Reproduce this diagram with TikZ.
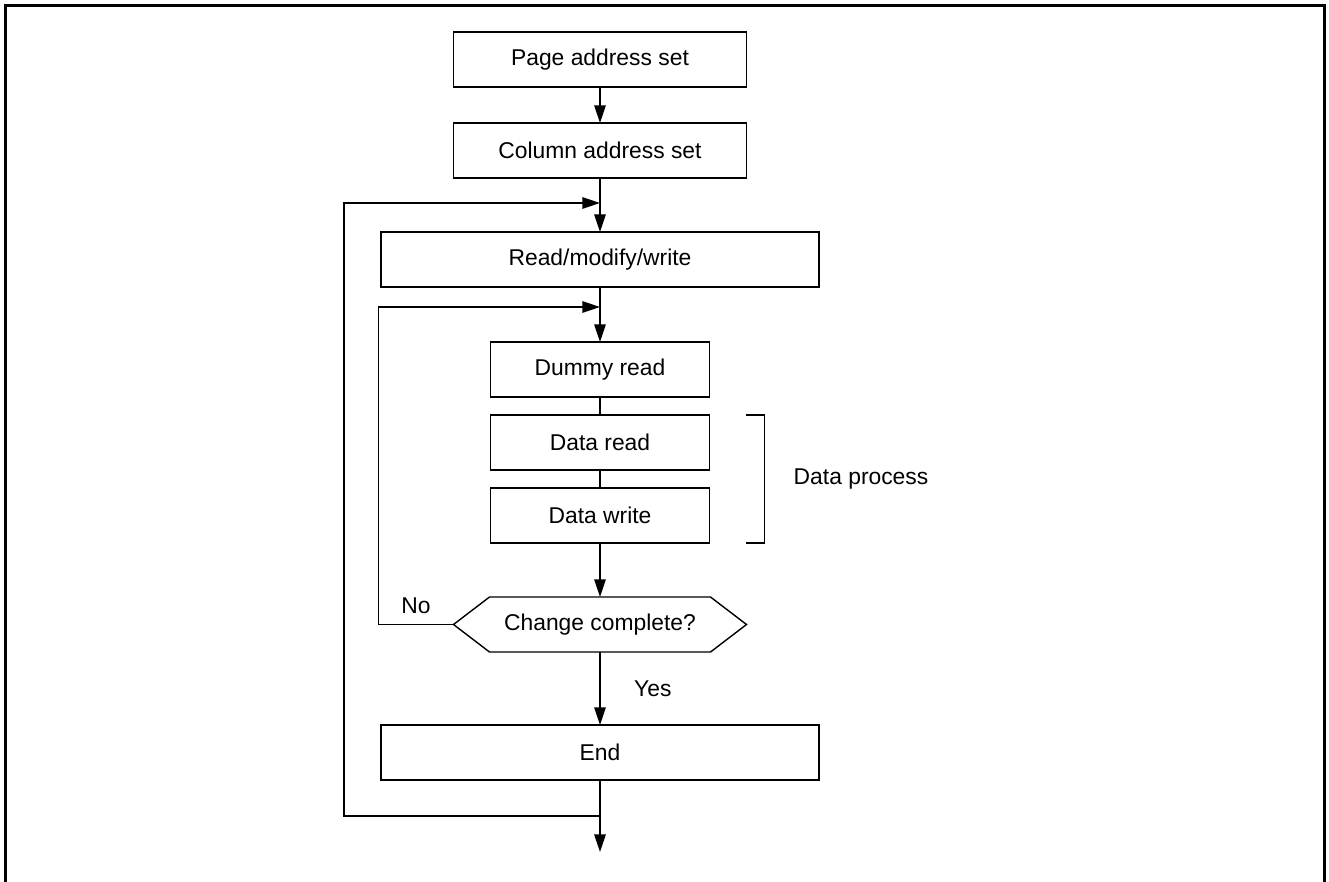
\documentclass[tikz,border=0pt]{standalone}
\usepackage{fontspec}
\setmainfont{Liberation Sans}
\usetikzlibrary{positioning, arrows.meta, calc}
\tikzset{
  procbox/.style   ={draw, line width=0.8pt, align=center, outer sep=0pt,
                     minimum width=5.86cm, minimum height=1.1cm,
                     font=\fontsize{13}{15.6}\selectfont, inner sep=4pt},
  widebox/.style   ={procbox, minimum width=8.76cm},
  subbox/.style    ={procbox, minimum width=4.38cm},
  decision/.style  ={procbox, draw=none, minimum width=4.42cm},
  flow/.style      ={-{Triangle[length=10pt, width=6.5pt]}, line width=0.8pt},
  link/.style      ={line width=0.8pt},
  lbl/.style       ={font=\fontsize{13}{15.6}\selectfont, inner sep=2pt},
  frameline/.style ={line width=2pt},
}

\begin{document}
\begin{tikzpicture}

  \useasboundingbox (0,0) rectangle (26.58,-17.64);

  % ============================================================
  % OUTER FRAME (open at the bottom)
  % ============================================================
  \draw[frameline] (0.11,-17.64) -- (0.11,-0.11) -- (26.49,-0.11) -- (26.49,-17.64);

  % ============================================================
  % MAIN COLUMN
  % ============================================================
  \node[procbox] (pageset) at (12.0,-1.19) {Page address set};
  \node[procbox, below=0.72cm of pageset] (colset) {Column address set};
  \node[widebox, below=1.08cm of colset] (rmw) {Read/modify/write};
  \node[subbox, below=1.1cm of rmw] (dummy) {Dummy read};
  \node[subbox, below=0.36cm of dummy] (dread) {Data read};
  \node[subbox, below=0.36cm of dread] (dwrite) {Data write};
  \node[decision, below=1.08cm of dwrite] (check) {Change complete?};
  \node[widebox, below=1.46cm of check] (finish) {End};

  % --- hexagon outline of the decision ---
  \coordinate (check tip W) at ([xshift=-0.72cm]check.west);
  \coordinate (check tip E) at ([xshift=0.72cm]check.east);
  \draw[link] (check.north west) -- (check.north east) -- (check tip E)
              -- (check.south east) -- (check.south west) -- (check tip W) -- cycle;

  % --- loop joints on the main line ---
  \coordinate (outer in)  at ([yshift=-0.5cm]colset.south);
  \coordinate (inner in)  at ([yshift=-0.4cm]rmw.south);
  \coordinate (outer out) at ([yshift=-0.72cm]finish.south);
  \coordinate (exit)      at ([yshift=-1.44cm]finish.south);

  % --- Main-flow vertical arrows ---
  \draw[flow] (pageset) -- (colset);
  \draw[flow] (colset) -- (rmw);
  \draw[flow] (rmw) -- (dummy);
  \draw[link] (dummy) -- (dread);
  \draw[link] (dread) -- (dwrite);
  \draw[flow] (dwrite) -- (check);
  \draw[flow] (check) -- node[lbl, right=0.6cm] {Yes} (finish);
  \draw[flow] (finish) -- (exit);

  % ============================================================
  % LOOPS (left side)
  % ============================================================
  \draw[flow] (outer out) -- ++(-5.12,0) |- (outer in);
  \draw[flow] (check tip W) -- node[lbl, above=4pt] {No} ++(-1.5,0) |- (inner in);

  % ============================================================
  % DATA PROCESS BRACKET (right side)
  % ============================================================
  \coordinate (brk top) at ([xshift=0.72cm]dread.north east);
  \coordinate (brk bot) at ([xshift=0.72cm]dwrite.south east);
  \draw[link] (brk top) -- ++(0.38,0)
              |- node[lbl, right=0.5cm, pos=0.25] {Data process} (brk bot);

\end{tikzpicture}
\end{document}
